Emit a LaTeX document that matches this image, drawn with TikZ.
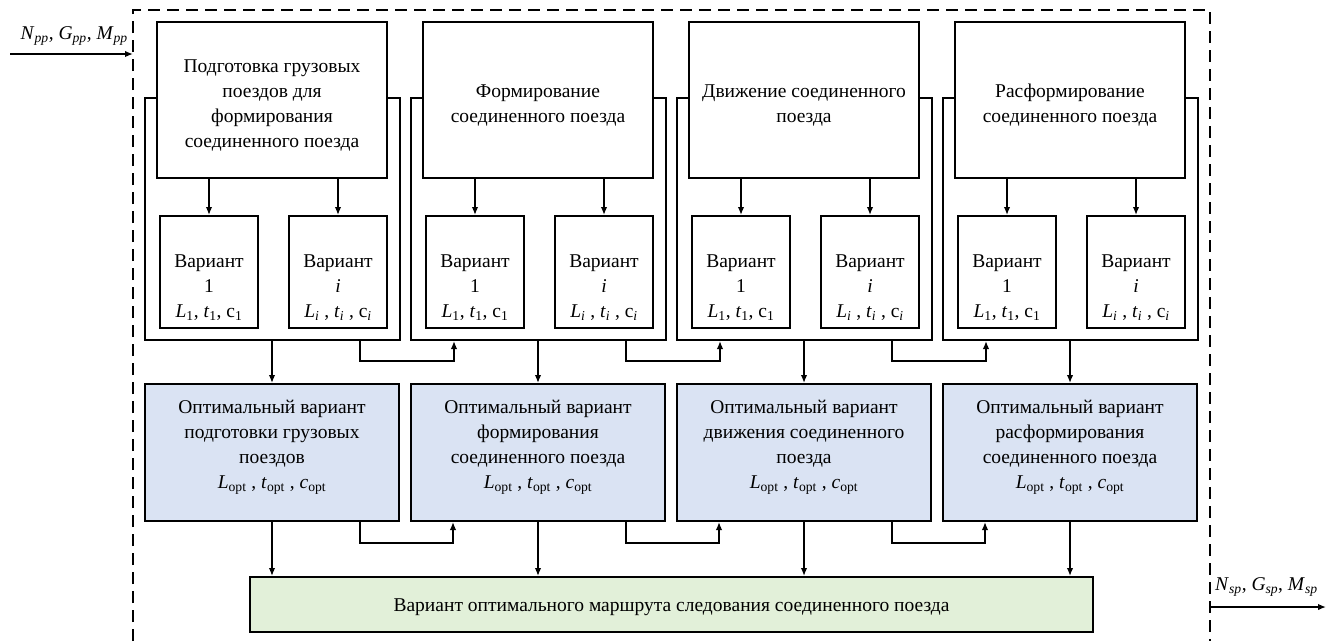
\documentclass[tikz,border=0pt]{standalone}
\usepackage{fontspec}
\setmainfont{Liberation Serif}
\usetikzlibrary{arrows.meta}

\definecolor{optblue}{RGB}{218,227,243}
\definecolor{resgreen}{RGB}{226,240,217}

% italic letter with an upright subscript
\newcommand{\isub}[2]{\textit{#1}\textsubscript{#2}}
% italic letter with an italic subscript
\newcommand{\iisub}[2]{\textit{#1}\textsubscript{\textit{#2}}}

\begin{document}
\begin{tikzpicture}[x=1pt,y=-1pt,
  font=\fontsize{19.5}{25}\selectfont,
  wrapbox/.style={draw, line width=2pt, minimum width=255pt, minimum height=242pt, inner sep=0pt},
  stagebox/.style={draw, line width=2pt, fill=white, minimum width=230pt, minimum height=156pt, inner sep=0pt},
  varbox/.style={draw, line width=2pt, fill=white, minimum width=98pt, minimum height=112pt, inner sep=0pt},
  optbox/.style={draw, line width=2pt, fill=optblue, minimum width=254pt, minimum height=137pt, inner sep=0pt},
  resbox/.style={draw, line width=2pt, fill=resgreen, minimum width=843pt, minimum height=55pt, inner sep=0pt},
  boxtext/.style={align=center, inner sep=0pt},
  flow/.style={line width=1.5pt, -{Latex[length=8pt,width=6.5pt]}},
  frameline/.style={line width=2pt, dash pattern=on 12pt off 7pt}]

\useasboundingbox (0,0) rectangle (1335,641);

% system boundary
\draw[frameline] (133,641) -- (133,10) -- (1210,10) -- (1210,641);

% input and output
\coordinate (inS) at (10,54);
\coordinate (inE) at (133,54);
\draw[flow] (inS) -- (inE);
\node[anchor=base east, inner sep=0pt] (inlab) at (128,39)
  {\iisub{N}{pp}, \iisub{G}{pp}, \iisub{M}{pp}};
\coordinate (outS) at (1210,607);
\coordinate (outE) at (1326,607);
\draw[flow] (outS) -- (outE);
\node[anchor=base west, inner sep=0pt] (outlab) at (1215,590)
  {\iisub{N}{sp}, \iisub{G}{sp}, \iisub{M}{sp}};

% stage groups: frames behind the stage boxes
\foreach \k/\c in {1/272,2/538,3/804,4/1070}
  \node[wrapbox] (w\k) at (\c,219) {};

\foreach \k/\c in {1/272,2/538,3/804,4/1070}
  \node[stagebox] (s\k) at (\c,100) {};

\node[boxtext] (ts1) at ([yshift=-5pt]s1.center) {Подготовка грузовых\\поездов для\\формирования\\соединенного поезда};
\node[boxtext] (ts2) at ([yshift=-5pt]s2.center) {Формирование\\соединенного поезда};
\node[boxtext] (ts3) at ([yshift=-5pt]s3.center) {Движение соединенного\\поезда};
\node[boxtext] (ts4) at ([yshift=-5pt]s4.center) {Расформирование\\соединенного поезда};

% variants of each stage
\foreach \k/\c in {1/272,2/538,3/804,4/1070} {
  \node[varbox] (a\k) at (\c-63,272) {};
  \node[varbox] (b\k) at (\c+66,272) {};
  \node[boxtext] (ta\k) at ([yshift=-16pt]a\k.center)
    {Вариант\\1\\\isub{L}{1}, \isub{t}{1}, c\textsubscript{1}};
  \node[boxtext] (tb\k) at ([yshift=-16pt]b\k.center)
    {Вариант\\\textit{i}\\\iisub{L}{i} , \iisub{t}{i} , c\textsubscript{\textit{i}}};
  \draw[flow] (s\k.south -| a\k.north) -- (a\k.north);
  \draw[flow] (s\k.south -| b\k.north) -- (b\k.north);
}

% optimal variants
\foreach \k/\c in {1/272,2/538,3/804,4/1070}
  \node[optbox] (o\k) at (\c,452.5) {};

\node[boxtext] (to1) at ([yshift=5pt]o1.center)
  {Оптимальный вариант\\подготовки грузовых\\поездов\\\isub{L}{opt} , \isub{t}{opt} , \isub{c}{opt}};
\node[boxtext] (to2) at ([yshift=5pt]o2.center)
  {Оптимальный вариант\\формирования\\соединенного поезда\\\isub{L}{opt} , \isub{t}{opt} , \isub{c}{opt}};
\node[boxtext] (to3) at ([yshift=5pt]o3.center)
  {Оптимальный вариант\\движения соединенного\\поезда\\\isub{L}{opt} , \isub{t}{opt} , \isub{c}{opt}};
\node[boxtext] (to4) at ([yshift=5pt]o4.center)
  {Оптимальный вариант\\расформирования\\соединенного поезда\\\isub{L}{opt} , \isub{t}{opt} , \isub{c}{opt}};

% resulting route
\node[resbox] (r) at (671.5,604.5) {};
\node[boxtext] (tr) at ([yshift=-3pt]r.center) {Вариант оптимального маршрута следования соединенного поезда};

% vertical links
\foreach \k in {1,2,3,4} {
  \draw[flow] (w\k.south) -- (o\k.north);
  \draw[flow] (o\k.south) -- (o\k.south |- r.north);
}

% links from one stage to the next
\foreach \k/\n in {1/2,2/3,3/4} {
  \draw[flow] ([xshift=88pt]w\k.south) -- ++(0,20) -| ([xshift=-84pt]w\n.south);
  \draw[flow] ([xshift=88pt]o\k.south) -- ++(0,21) -| ([xshift=-85pt]o\n.south);
}
\end{tikzpicture}
\end{document}
